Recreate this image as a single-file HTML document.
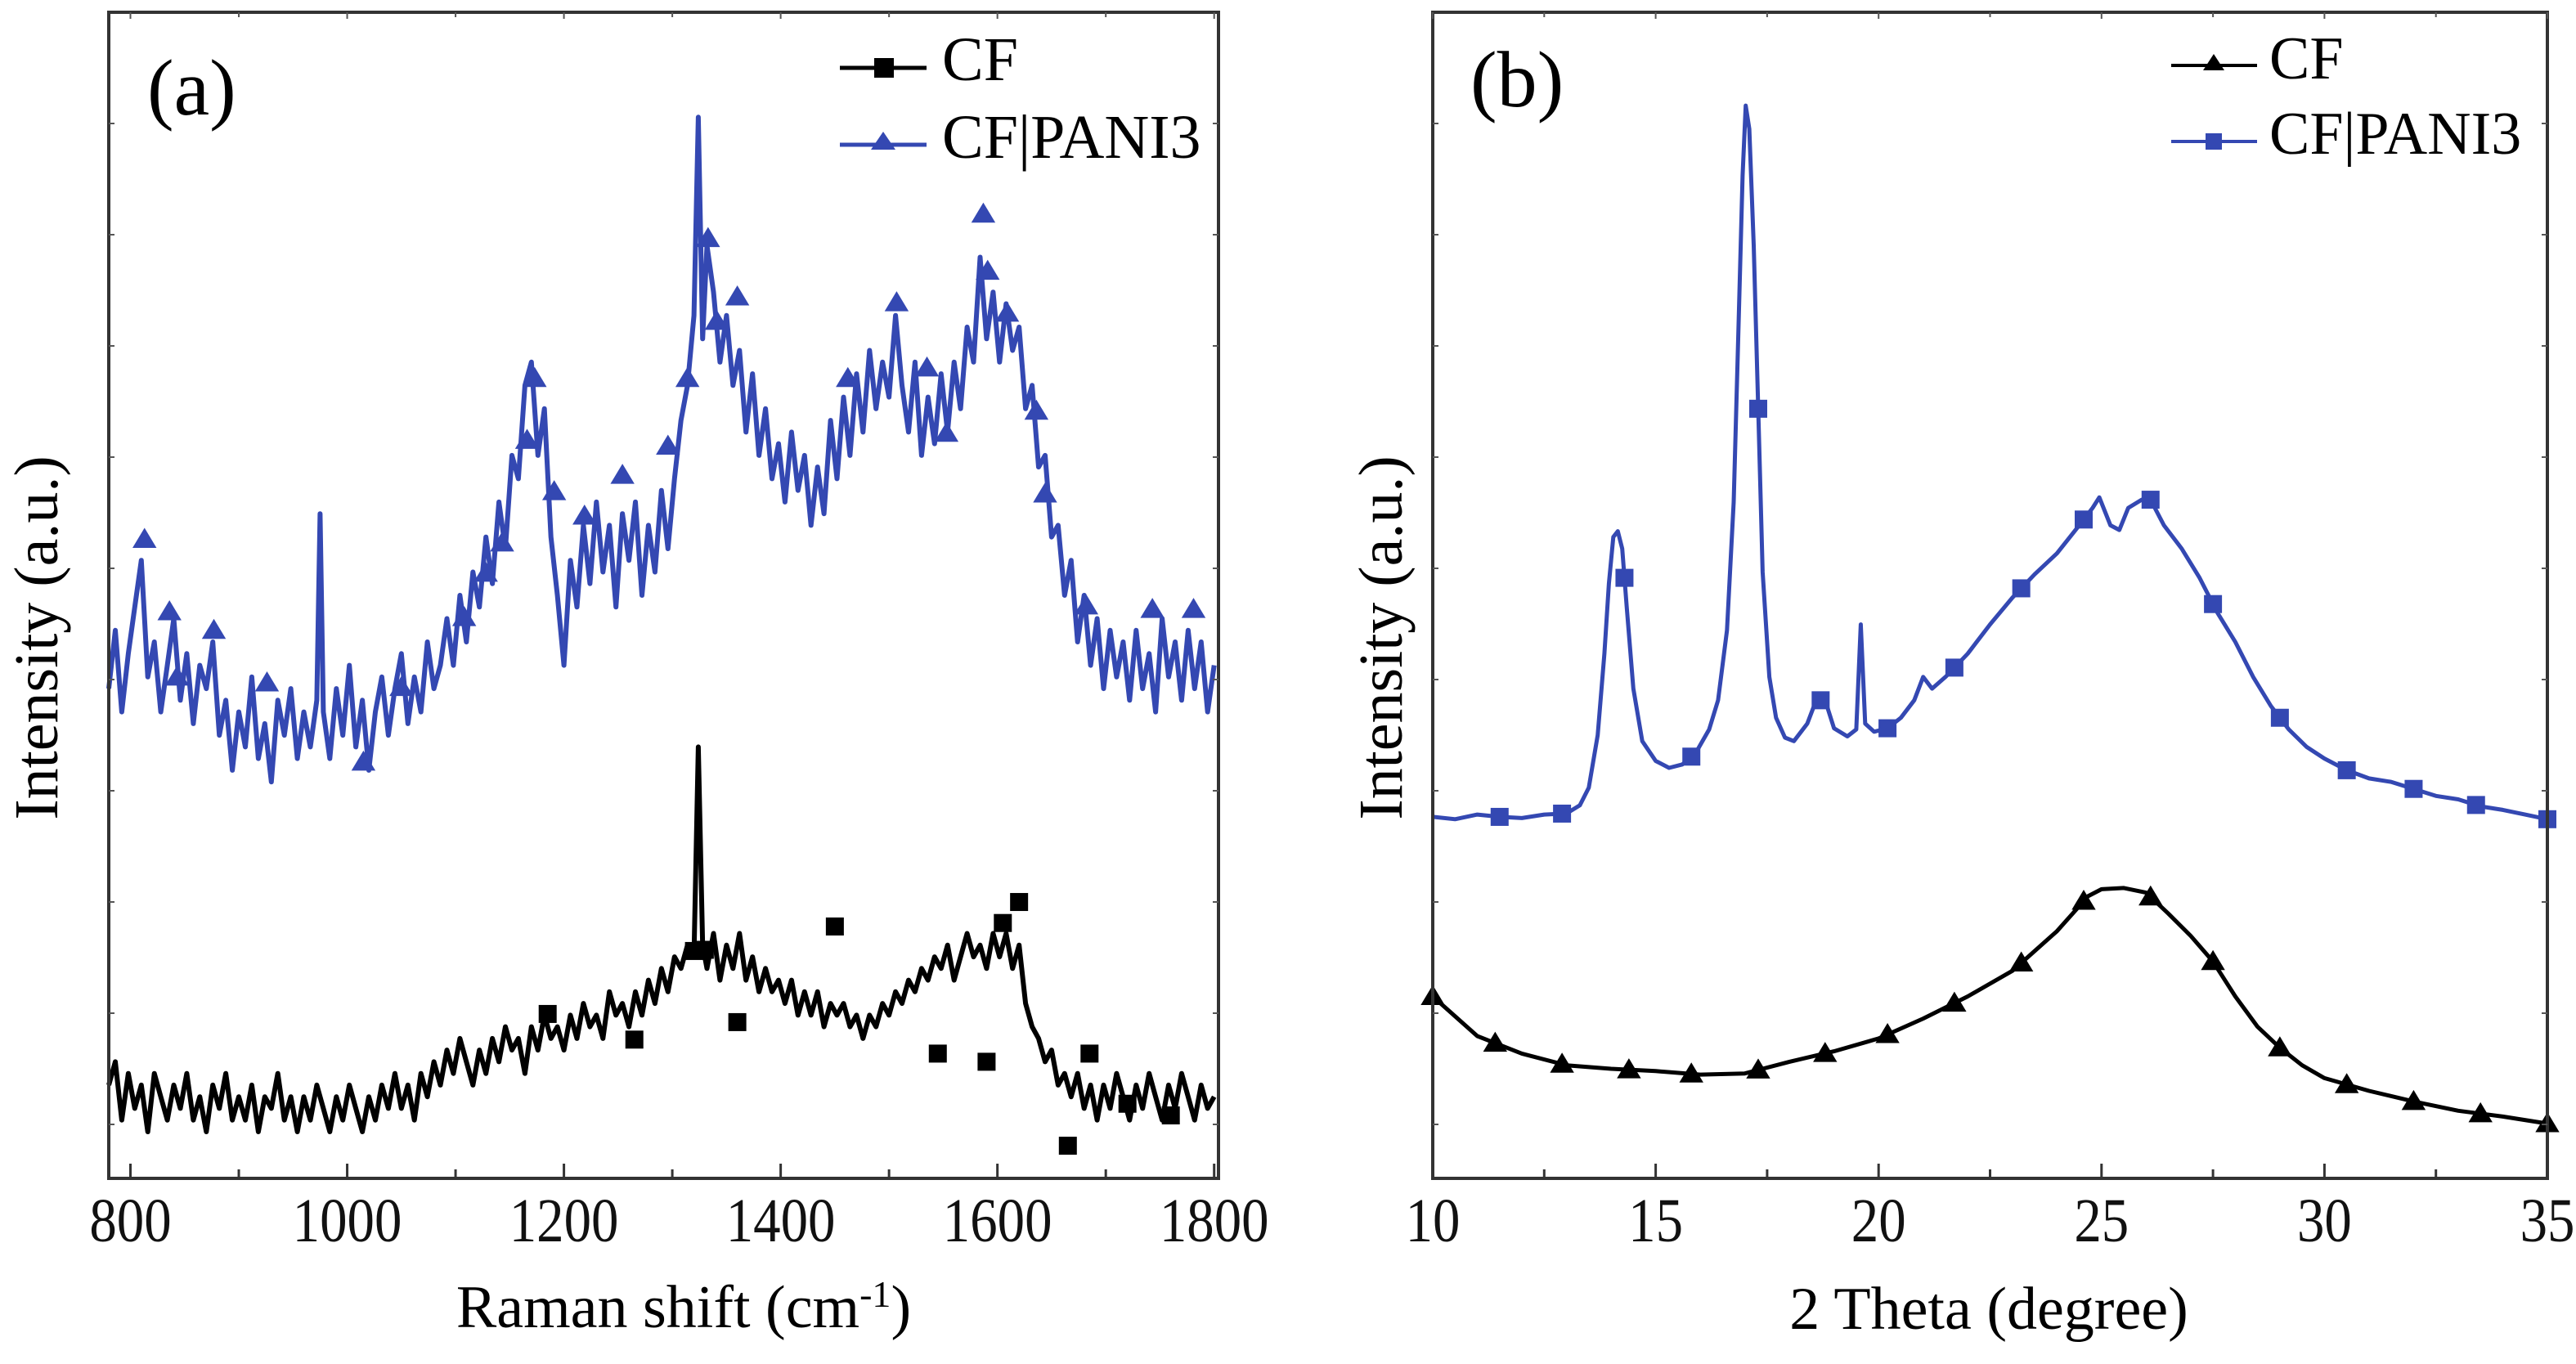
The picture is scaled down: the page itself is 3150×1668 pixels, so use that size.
<!DOCTYPE html>
<html><head><meta charset="utf-8">
<style>
html,body{margin:0;padding:0;background:#fff;}
svg{display:block;font-family:"Liberation Serif",serif;}
</style></head>
<body>
<svg id="fig" width="3150" height="1668" viewBox="0 0 3150 1668" xmlns="http://www.w3.org/2000/svg">
<rect x="0" y="0" width="3150" height="1668" fill="#fff"/>
<g id="pa"></g>
<g id="pb"></g>
</svg>
<script>
// ---------- Panel (a) Raman data ----------
const ramanShift = [
780,786,792,798,804,810,816,822,828,834,
840,846,852,858,864,870,876,882,888,894,
900,906,912,918,924,930,936,942,948,954,
960,966,972,975,978,984,990,996,1002,1008,
1014,1020,1026,1032,1038,1044,1050,1056,1062,1068,
1074,1080,1086,1092,1098,1104,1110,1116,1122,1128,
1134,1140,1146,1152,1158,1164,1170,1176,1182,1188,
1194,1200,1206,1212,1218,1224,1230,1236,1242,1248,
1254,1260,1266,1272,1278,1284,1290,1296,1302,1308,
1314,1320,1324,1328,1332,1338,1344,1350,1356,1362,
1368,1374,1380,1386,1392,1398,1404,1410,1416,1422,
1428,1434,1440,1446,1452,1458,1464,1470,1476,1482,
1488,1494,1500,1506,1512,1518,1524,1530,1536,1542,
1548,1554,1560,1566,1572,1578,1584,1590,1596,1602,
1608,1614,1620,1626,1632,1638,1644,1650,1656,1662,
1668,1674,1680,1686,1692,1698,1704,1710,1716,1722,
1728,1734,1740,1746,1752,1758,1764,1770,1776,1782,
1788,1794,1800];
const ramanPani3 = [
42,47,40,45,49,53,43,46,40,44,
48,41,45,39,44,42,46,38,41,35,
40,37,43,36,39,34,41,38,42,36,
40,37,41,57,40,36,42,38,44,37,
41,35,40,43,38,42,45,39,43,40,
46,42,44,48,44,50,46,52,49,55,
51,58,54,62,60,68,70,62,66,55,
50,44,53,49,56,51,58,52,56,49,
57,53,58,50,56,52,59,54,60,65,
68,74,91,72,80,76,70,74,68,71,
64,69,62,66,60,63,58,64,59,62,
56,61,57,65,60,67,62,69,64,71,
66,70,67,74,68,64,70,62,67,63,
69,64,70,66,73,70,79,72,76,70,
75,71,73,66,68,61,62,55,56,50,
53,46,50,44,48,42,47,43,46,41,
47,42,45,40,48,43,46,41,47,42,
46,40,44];
const ramanCF = [
8,10,5,9,6,8,4,9,7,5,
8,6,9,5,7,4,8,6,9,5,
7,5,8,4,7,6,9,5,7,4,
7,5,8,7,6,4,7,5,8,6,
4,7,5,8,6,9,6,8,5,9,
7,10,8,11,9,12,10,8,11,9,
12,10,13,11,12,9,13,11,14,12,
13,11,14,12,15,13,14,12,16,14,
15,13,16,14,17,15,18,16,19,18,
20,19,37,20,18,21,17,20,18,21,
17,19,16,18,16,17,15,17,14,16,
14,16,13,15,14,15,13,14,12,14,
13,15,14,16,15,17,16,18,17,19,
18,20,17,19,21,19,20,18,21,19,
21,18,20,15,13,12,10,11,8,9,
7,9,6,8,5,8,6,9,7,5,
8,6,9,7,5,8,6,9,7,5,
8,6,7];
const pani3MarkX = [813,836,843,877,926,1015,1050,1108,1128,1143,1166,1173,1191,1219,1254,1296,1314,1333,1341,1360,1462,1507,1535,1553,1587,1591,1609,1636,1644,1682,1743,1781];
const pani3MarkV = [54.8,48.6,43.0,47.0,42.5,35.7,42.1,48.1,51.9,54.5,63.3,68.6,58.9,56.8,60.3,62.8,68.6,80.6,73.5,75.6,68.6,75.1,69.5,63.9,82.7,77.8,74.2,65.8,58.7,49.1,48.8,48.8];
const cfMarkX = [1185,1265,1320,1330,1360,1450,1545,1590,1605,1620,1665,1685,1720,1760];
const cfMarkV = [14.1,11.9,19.5,19.6,13.4,21.6,10.7,10.0,21.9,23.7,2.8,10.7,6.4,5.4];
const ramanTicks = [800,1000,1200,1400,1600,1800];
const ramanMinor = [900,1100,1300,1500,1700];

// ---------- Panel (b) XRD data ----------
const thetaPani3 = [10.0,10.5,11.0,11.5,12.0,12.5,13.0,13.3,13.5,13.7,13.85,13.95,14.05,14.15,14.25,14.35,14.5,14.7,15.0,15.3,15.6,15.9,16.2,16.4,16.6,16.75,16.85,16.95,17.02,17.1,17.2,17.3,17.4,17.55,17.7,17.9,18.1,18.4,18.6,18.8,19.0,19.3,19.5,19.6,19.7,19.9,20.2,20.5,20.8,21.0,21.2,21.5,22.0,22.5,23.0,23.5,24.0,24.5,24.8,24.95,25.2,25.4,25.6,25.9,26.1,26.4,26.8,27.2,27.6,28.0,28.4,28.8,29.2,29.6,30.0,30.5,31.0,31.5,32.0,32.5,33.0,33.5,34.0,34.5,35.0];
const xrdPani3 = [31.0,30.8,31.2,31.0,30.9,31.2,31.3,32.0,33.5,38,45,51,55,55.5,54,49,42,37.5,35.8,35.2,35.5,36.5,38.5,41,47,58,72,86,92,90,80,66,52,43,39.5,37.8,37.5,39,41,41,38.6,37.9,38.5,47.5,39,38.3,38.6,39.5,41,43,42,43,45,47.5,49.8,51.8,53.6,56,57.5,58.4,56,55.6,57.5,58.2,58.2,56,54,51.5,48.5,46,43,40.5,38.5,37,36,35,34.3,34,33.4,32.8,32.5,31.9,31.6,31.2,30.8];
const thetaCF = [10,11,12,13,14,15,16,17,18,19,20,21,22,23,24,24.7,25,25.5,26,26.5,27,27.5,28,28.5,29,29.5,30,31,32,33,34,35];
const xrdCF = [15.6,12.2,10.7,9.7,9.4,9.2,8.9,9.0,10.0,10.9,12.0,13.7,15.6,17.8,21.2,24.2,24.8,24.9,24.5,22.7,20.8,18.6,15.6,13.0,11.2,9.7,8.6,7.5,6.6,5.8,5.3,4.7];
const pani3XrdMarks = [11.5,12.9,14.3,15.8,17.3,18.7,20.2,21.7,23.2,24.6,26.1,27.5,29.0,30.5,32.0,33.4,35.0];
const cfXrdMarks = [10,11.4,12.9,14.4,15.8,17.3,18.8,20.2,21.7,23.2,24.6,26.1,27.5,29.0,30.5,32.0,33.5,35.0];
const thetaTicks = [10,15,20,25,30,35];
const thetaMinor = [12.5,17.5,22.5,27.5,32.5];

const NS = "http://www.w3.org/2000/svg";
const BLUE = "#3448b2";
function mk(tag, attrs, parent){
  const e = document.createElementNS(NS, tag);
  for (const k in attrs) e.setAttribute(k, attrs[k]);
  parent.appendChild(e); return e;
}
function interp(xs, ys, x){
  for (let i=1;i<xs.length;i++){ if (x<=xs[i]){ const t=(x-xs[i-1])/(xs[i]-xs[i-1]); return ys[i-1]+t*(ys[i]-ys[i-1]); } }
  return ys[ys.length-1];
}
function tri(cx, cy, s){ return `${cx},${cy-s} ${cx-s*1.05},${cy+s*0.75} ${cx+s*1.05},${cy+s*0.75}`; }

function drawPanel(g, L, R, T, B, x0, x1, ticks, minor, opts){
  const sx = v => L + (v - x0)/(x1 - x0)*(R - L);
  const sy = v => B - v/100*(B - T);
  opts.series.forEach(s => {
    const n = Math.min(s.x.length, s.y.length);
    let d = "";
    for (let i=0;i<n;i++) d += (i?"L":"M") + sx(s.x[i]).toFixed(1) + "," + sy(s.y[i]).toFixed(1);
    const p = mk("path", {d:d, fill:"none", stroke:s.color, "stroke-width":s.w, "stroke-linejoin":"round"}, g);
    
    
    const mg = mk("g", {}, g);
    
    
    const mn = Math.min(s.mx.length, s.mv.length);
    for (let i=0;i<mn;i++){
      const cx = sx(s.mx[i]), cy = sy(s.mv[i]);
      let m;
      if (s.marker === "tri") m = mk("polygon", {points:tri(cx, cy, 14), fill:s.color}, mg);
      else m = mk("rect", {x:cx-11, y:cy-11, width:22, height:22, fill:s.color}, mg);
      
      
    }
  });
  const fr = mk("rect", {x:L, y:T, width:R-L, height:B-T, fill:"none", stroke:"#333", "stroke-width":4}, g);
  
  
  ticks.forEach(v => {
    const x = sx(v);
    const t = mk("line", {x1:x, y1:B, x2:x, y2:B-18, stroke:"#333", "stroke-width":3}, g);
    
    
    mk("line", {x1:x, y1:T, x2:x, y2:T+8, stroke:"#555", "stroke-width":2}, g);
    const lb = mk("text", {x:0, y:0, "font-size":76, "text-anchor":"middle", fill:"#111",
      transform:`translate(${x},1518) scale(0.88,1)`}, g);
    lb.textContent = v;
    
    
  });
  minor.forEach(v => {
    const x = sx(v);
    const t = mk("line", {x1:x, y1:B, x2:x, y2:B-11, stroke:"#333", "stroke-width":3}, g);
    
    
    mk("line", {x1:x, y1:T, x2:x, y2:T+6, stroke:"#555", "stroke-width":2}, g);
  });
  for (let y = T + 136; y < B; y += 136){
    mk("line", {x1:L, y1:y, x2:L+7, y2:y, stroke:"#555", "stroke-width":2}, g);
    mk("line", {x1:R, y1:y, x2:R-7, y2:y, stroke:"#555", "stroke-width":2}, g);
  }
}

const pa = document.getElementById("pa");
drawPanel(pa, 133, 1490, 15, 1441, 780, 1804, ramanTicks, ramanMinor, {series:[
  {name:"cf-pani3-raman", x:ramanShift, y:ramanPani3, color:BLUE, w:6, marker:"tri", mx:pani3MarkX, mv:pani3MarkV},
  {name:"cf-raman", x:ramanShift, y:ramanCF, color:"#000", w:6, marker:"sq", mx:cfMarkX, mv:cfMarkV}
]});
const pb = document.getElementById("pb");
drawPanel(pb, 1752, 3115, 15, 1441, 10, 35, thetaTicks, thetaMinor, {series:[
  {name:"cf-pani3-xrd", x:thetaPani3, y:xrdPani3, color:BLUE, w:5, marker:"sq", mx:pani3XrdMarks, mv:pani3XrdMarks.map(v=>interp(thetaPani3, xrdPani3, v))},
  {name:"cf-xrd", x:thetaCF, y:xrdCF, color:"#000", w:5, marker:"tri", mx:cfXrdMarks, mv:cfXrdMarks.map(v=>interp(thetaCF, xrdCF, v))}
]});
</script>
<div style="position:absolute;left:0;top:0;width:3150px;height:1668px;pointer-events:none">
<svg width="3150" height="1668" viewBox="0 0 3150 1668" style="position:absolute;left:0;top:0;font-family:'Liberation Serif',serif">
  <text x="180" y="140" font-size="98">(a)</text>
  <text x="1798" y="130" font-size="98">(b)</text>
  <g>
    <g>
      <line x1="1027" y1="83" x2="1133" y2="83" stroke="#000" stroke-width="5"/>
      <rect x="1069" y="71" width="24" height="24" fill="#000"/>
      <text x="1152" y="98" font-size="76">CF</text>
    </g>
    <g>
      <line x1="1027" y1="177" x2="1133" y2="177" stroke="#3448b2" stroke-width="5"/>
      <polygon points="1080,161 1065,183 1095,183" fill="#3448b2"/>
      <text x="1152" y="193" font-size="76">CF|PANI3</text>
    </g>
  </g>
  <g>
    <g>
      <line x1="2655" y1="80" x2="2760" y2="80" stroke="#000" stroke-width="4"/>
      <polygon points="2707,66 2694,86 2720,86" fill="#000"/>
      <text x="2775" y="96" font-size="74">CF</text>
    </g>
    <g>
      <line x1="2655" y1="173" x2="2760" y2="173" stroke="#3448b2" stroke-width="4"/>
      <rect x="2697" y="163" width="20" height="20" fill="#3448b2"/>
      <text x="2775" y="188" font-size="74">CF|PANI3</text>
    </g>
  </g>
  <text x="836" y="1623" font-size="74" text-anchor="middle">Raman shift (cm<tspan baseline-shift="super" font-size="46">-1</tspan>)</text>
  <text x="2432" y="1625" font-size="74" text-anchor="middle">2 Theta (degree)</text>
  <text x="0" y="0" font-size="76" text-anchor="middle" transform="translate(70,780) rotate(-90)">Intensity (a.u.)</text>
  <text x="0" y="0" font-size="76" text-anchor="middle" transform="translate(1714,780) rotate(-90)">Intensity (a.u.)</text>
</svg>
</div>
</body></html>
